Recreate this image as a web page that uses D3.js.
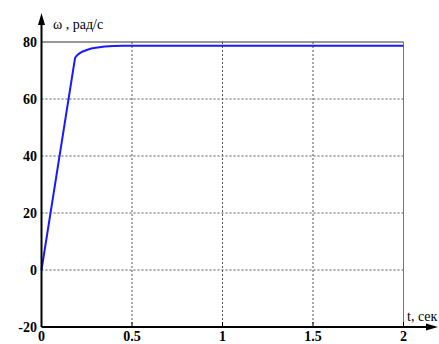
<!DOCTYPE html>
<html>
<head>
<meta charset="utf-8">
<script src="https://cdn.jsdelivr.net/npm/d3@7"></script>
<style>
	body { margin: 0; background: #fff; }
	svg text { font-family: "Liberation Serif", "DejaVu Serif", serif; }
	.tick-label { font-weight: bold; font-size: 14px; }
</style>
</head>
<body>
<div id="chart"></div>
<script>
"use strict";

// time, seconds
var timeValues = [0, 0.185, 0.19, 0.2, 0.21, 0.225, 0.25, 0.275, 0.3, 0.35, 0.4, 0.45, 0.5, 1, 1.5, 2];
// angular speed, rad/s
var omegaValues = [0, 74.3, 74.9, 75.5, 76.0, 76.6, 77.2, 77.7, 78.0, 78.4, 78.6, 78.7, 78.7, 78.7, 78.7, 78.7];

var xTicks = [0, 0.5, 1, 1.5, 2];
var xTickLabels = ["0", "0.5", "1", "1.5", "2"];
var yTicks = [-20, 0, 20, 40, 60, 80];
var yTickLabels = ["-20", "0", "20", "40", "60", "80"];

var width = 439, height = 344;
var svg = d3.select("#chart").append("svg")
	.attr("width", width)
	.attr("height", height)
	.attr("font-family", "Liberation Serif, DejaVu Serif, serif");

var scaleX = d3.scaleLinear().domain([0, 2]).range([41.5, 403.5]);
var scaleY = d3.scaleLinear().domain([-20, 80]).range([327, 42]);

// dotted grid
svg.append("g").selectAll("line")
	.data(xTicks.slice(1, -1))
	.enter().append("line")
	.attr("x1", function(d) { return scaleX(d); })
	.attr("x2", function(d) { return scaleX(d); })
	.attr("y1", scaleY(80))
	.attr("y2", scaleY(-20))
	.attr("stroke", "#555")
	.attr("stroke-width", 1)
	.attr("stroke-dasharray", "2,2");
svg.append("g").selectAll("line")
	.data(yTicks.slice(1, -1))
	.enter().append("line")
	.attr("x1", scaleX(0))
	.attr("x2", scaleX(2))
	.attr("y1", function(d) { return scaleY(d); })
	.attr("y2", function(d) { return scaleY(d); })
	.attr("stroke", "#555")
	.attr("stroke-width", 1)
	.attr("stroke-dasharray", "2,2");

// frame top and right
svg.append("line")
	.attr("x1", scaleX(0)).attr("x2", scaleX(2))
	.attr("y1", scaleY(80)).attr("y2", scaleY(80))
	.attr("stroke", "#333").attr("stroke-width", 1);
svg.append("line")
	.attr("x1", scaleX(2)).attr("x2", scaleX(2))
	.attr("y1", scaleY(80)).attr("y2", scaleY(-20))
	.attr("stroke", "#777").attr("stroke-width", 1);

// curve
var line = d3.line()
	.x(function(d, i) { return scaleX(timeValues[i]); })
	.y(function(d) { return scaleY(d); })
	.curve(d3.curveLinear);
svg.append("path")
	.datum(omegaValues)
	.attr("d", line)
	.attr("fill", "none")
	.attr("stroke", "#1a1aff")
	.attr("stroke-width", 2);

// axes with arrows
svg.append("line")
	.attr("x1", scaleX(0)).attr("x2", scaleX(0))
	.attr("y1", scaleY(-20)).attr("y2", 20)
	.attr("stroke", "#000").attr("stroke-width", 2);
svg.append("path")
	.attr("d", "M" + scaleX(0) + ",13 L" + (scaleX(0) - 3.5) + ",25 L" + (scaleX(0) + 3.5) + ",25 Z")
	.attr("fill", "#000");
svg.append("line")
	.attr("x1", scaleX(0)).attr("x2", 430)
	.attr("y1", scaleY(-20)).attr("y2", scaleY(-20))
	.attr("stroke", "#000").attr("stroke-width", 2);
svg.append("path")
	.attr("d", "M438," + scaleY(-20) + " L426," + (scaleY(-20) - 3.5) + " L426," + (scaleY(-20) + 3.5) + " Z")
	.attr("fill", "#000");

// tick marks
svg.append("g").selectAll("line")
	.data(xTicks.slice(1))
	.enter().append("line")
	.attr("x1", function(d) { return scaleX(d); })
	.attr("x2", function(d) { return scaleX(d); })
	.attr("y1", scaleY(-20))
	.attr("y2", scaleY(-20) - 5)
	.attr("stroke", "#000");

// tick labels
svg.append("g").selectAll("text")
	.data(xTicks)
	.enter().append("text")
	.attr("class", "tick-label")
	.attr("x", function(d) { return scaleX(d); })
	.attr("y", scaleY(-20) + 14)
	.attr("text-anchor", "middle")
	.text(function(d, i) { return xTickLabels[i]; });
svg.append("g").selectAll("text")
	.data(yTicks)
	.enter().append("text")
	.attr("class", "tick-label")
	.attr("x", 37)
	.attr("y", function(d) { return scaleY(d) + 5; })
	.attr("text-anchor", "end")
	.text(function(d, i) { return yTickLabels[i]; });

// axis titles
svg.append("text")
	.attr("x", 53)
	.attr("y", 29)
	.attr("font-size", 14)
	.text("ω , рад/с");
svg.append("text")
	.attr("x", 407)
	.attr("y", 321)
	.attr("font-size", 14)
	.text("t, сек");
</script>
</body>
</html>
